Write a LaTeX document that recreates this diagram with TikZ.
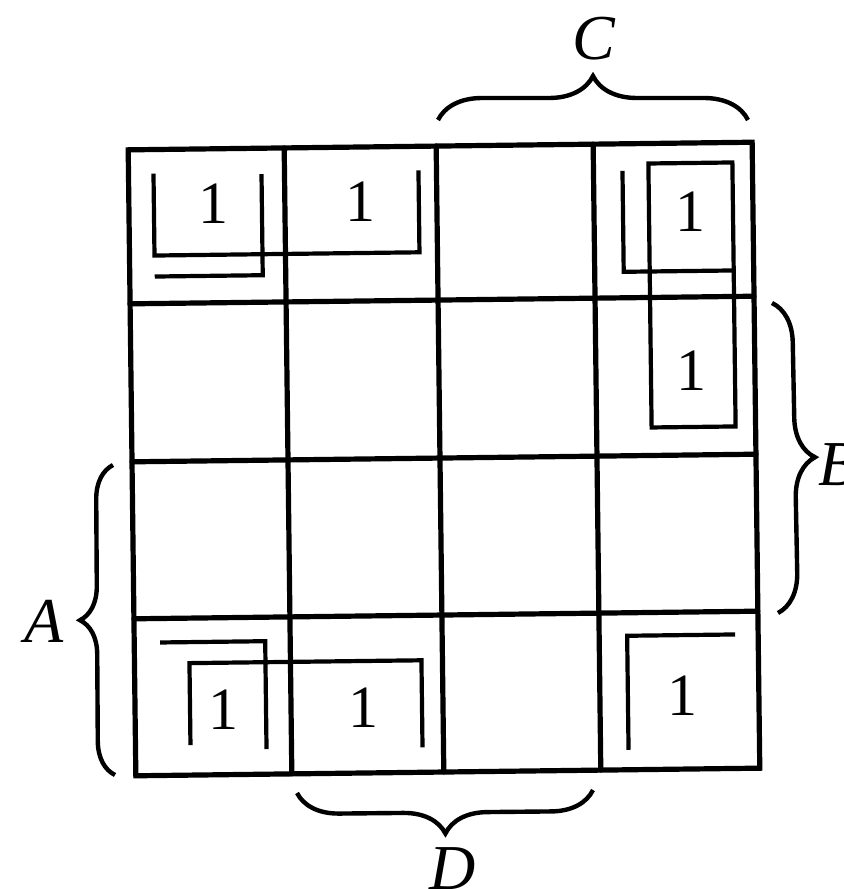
\documentclass[tikz,border=0pt]{standalone}
\usepackage{fontspec}
\setmainfont{Liberation Serif}
\usetikzlibrary{decorations.pathreplacing}
\begin{document}
\begin{tikzpicture}[x=0.5pt,y=-0.5pt,
  gridline/.style={line width=2.6pt, line cap=round},
  loopline/.style={line width=2.1pt, line join=miter},
  bracepath/.style={decorate, decoration={brace, amplitude=#1}, line width=2.2pt},
  one/.style={font=\fontsize{30}{30}\selectfont, inner sep=0pt},
  varlabel/.style={font=\fontsize{32}{32}\selectfont\itshape, inner sep=0pt}]
\useasboundingbox (0,0) rectangle (844,889);
\fill[white] (0,0) rectangle (844,889);

\begin{scope}[rotate around={0.7:(444,460)}]
  % grid
  \draw[gridline] (132,146) rectangle (756,772);
  \foreach \x in {288,440,597} \draw[gridline] (\x,146) -- (\x,772);
  \foreach \y in {300,458,615} \draw[gridline] (132,\y) -- (756,\y);
  % loops
  \draw[loopline] (157,170) -- (157,252) -- (422,252) -- (422,170);
  \draw[loopline] (265,172) -- (265,273) -- (157,273);
  \draw[loopline] (626,173) -- (626,274) -- (736,274);
  \draw[loopline] (652,166) rectangle (736,430);
  \draw[loopline] (158,639) -- (263,639) -- (263,747);
  \draw[loopline] (187,742) -- (187,660) -- (419,660) -- (419,747);
  \draw[loopline] (625,752) -- (625,638) -- (733,638);
  % ones
  \node[one] (m00) at (217,201) {1};
  \node[one] (m01) at (364,201) {1};
  \node[one] (m03) at (694,215) {1};
  \node[one] (m13) at (693,374) {1};
  \node[one] (m30) at (220,707) {1};
  \node[one] (m31) at (360,707) {1};
  \node[one] (m33) at (680,699) {1};
\end{scope}

% braces
\coordinate (c1) at (438,120);
\coordinate (c2) at (748,120);
\draw[bracepath=22pt] (c1) -- (c2);
\node[varlabel] (C) at (594,39) {C};

\coordinate (b1) at (772,303);
\coordinate (b2) at (778,613);
\draw[bracepath=20pt] (b1) -- (b2);
\node[varlabel, anchor=west] (B) at (818,465) {B};

\coordinate (a1) at (115,775);
\coordinate (a2) at (113,465);
\draw[bracepath=17pt] (a1) -- (a2);
\node[varlabel] (A) at (44,621) {A};

\coordinate (d1) at (593,790);
\coordinate (d2) at (297,793);
\draw[bracepath=21pt] (d1) -- (d2);
\node[varlabel] (D) at (453,869) {D};
\end{tikzpicture}
\end{document}
